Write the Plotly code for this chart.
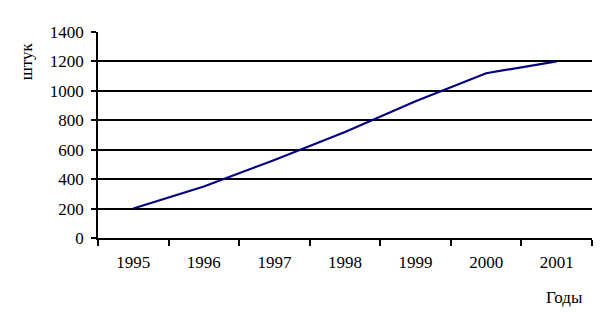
import plotly.graph_objects as go

years = ["1995", "1996", "1997", "1998", "1999", "2000", "2001"]
values = [200, 350, 530, 720, 930, 1120, 1200]
y_ticks = [0, 200, 400, 600, 800, 1000, 1200, 1400]

font = dict(family="Liberation Serif", size=17, color="black")

fig = go.Figure()
fig.add_trace(go.Scatter(x=years, y=values, mode="lines",
                         line=dict(color="#000080", width=2.2)))

fig.update_layout(
    width=608, height=327,
    margin=dict(l=98, r=16, t=32, b=89),
    plot_bgcolor="white", paper_bgcolor="white",
    showlegend=False,
    font=font,
)
fig.update_xaxes(
    type="category", tickson="boundaries", ticks="outside", ticklen=6,
    tickcolor="black", tickwidth=1.5, showline=True, linecolor="black", linewidth=1.5,
    showgrid=False, tickfont=font, range=[-0.5, 6.5], ticklabelstandoff=8,
)
fig.update_yaxes(
    range=[0, 1400], tickvals=y_ticks, ticks="outside", ticklen=5,
    tickcolor="black", tickwidth=1.5, showline=True, linecolor="black", linewidth=1.5,
    showgrid=True, gridcolor="black", gridwidth=1.5, zeroline=False, tickfont=font,
    ticklabelstandoff=4,
)
fig.add_annotation(text="штук", xref="paper", yref="paper", x=-0.145, y=0.86,
                   textangle=-90, showarrow=False, font=font,
                   xanchor="center", yanchor="middle")
fig.add_annotation(text="Годы", xref="paper", yref="paper", x=0.985, y=-0.29,
                   showarrow=False, font=font, xanchor="right", yanchor="middle")

fig.write_html("out.html")
